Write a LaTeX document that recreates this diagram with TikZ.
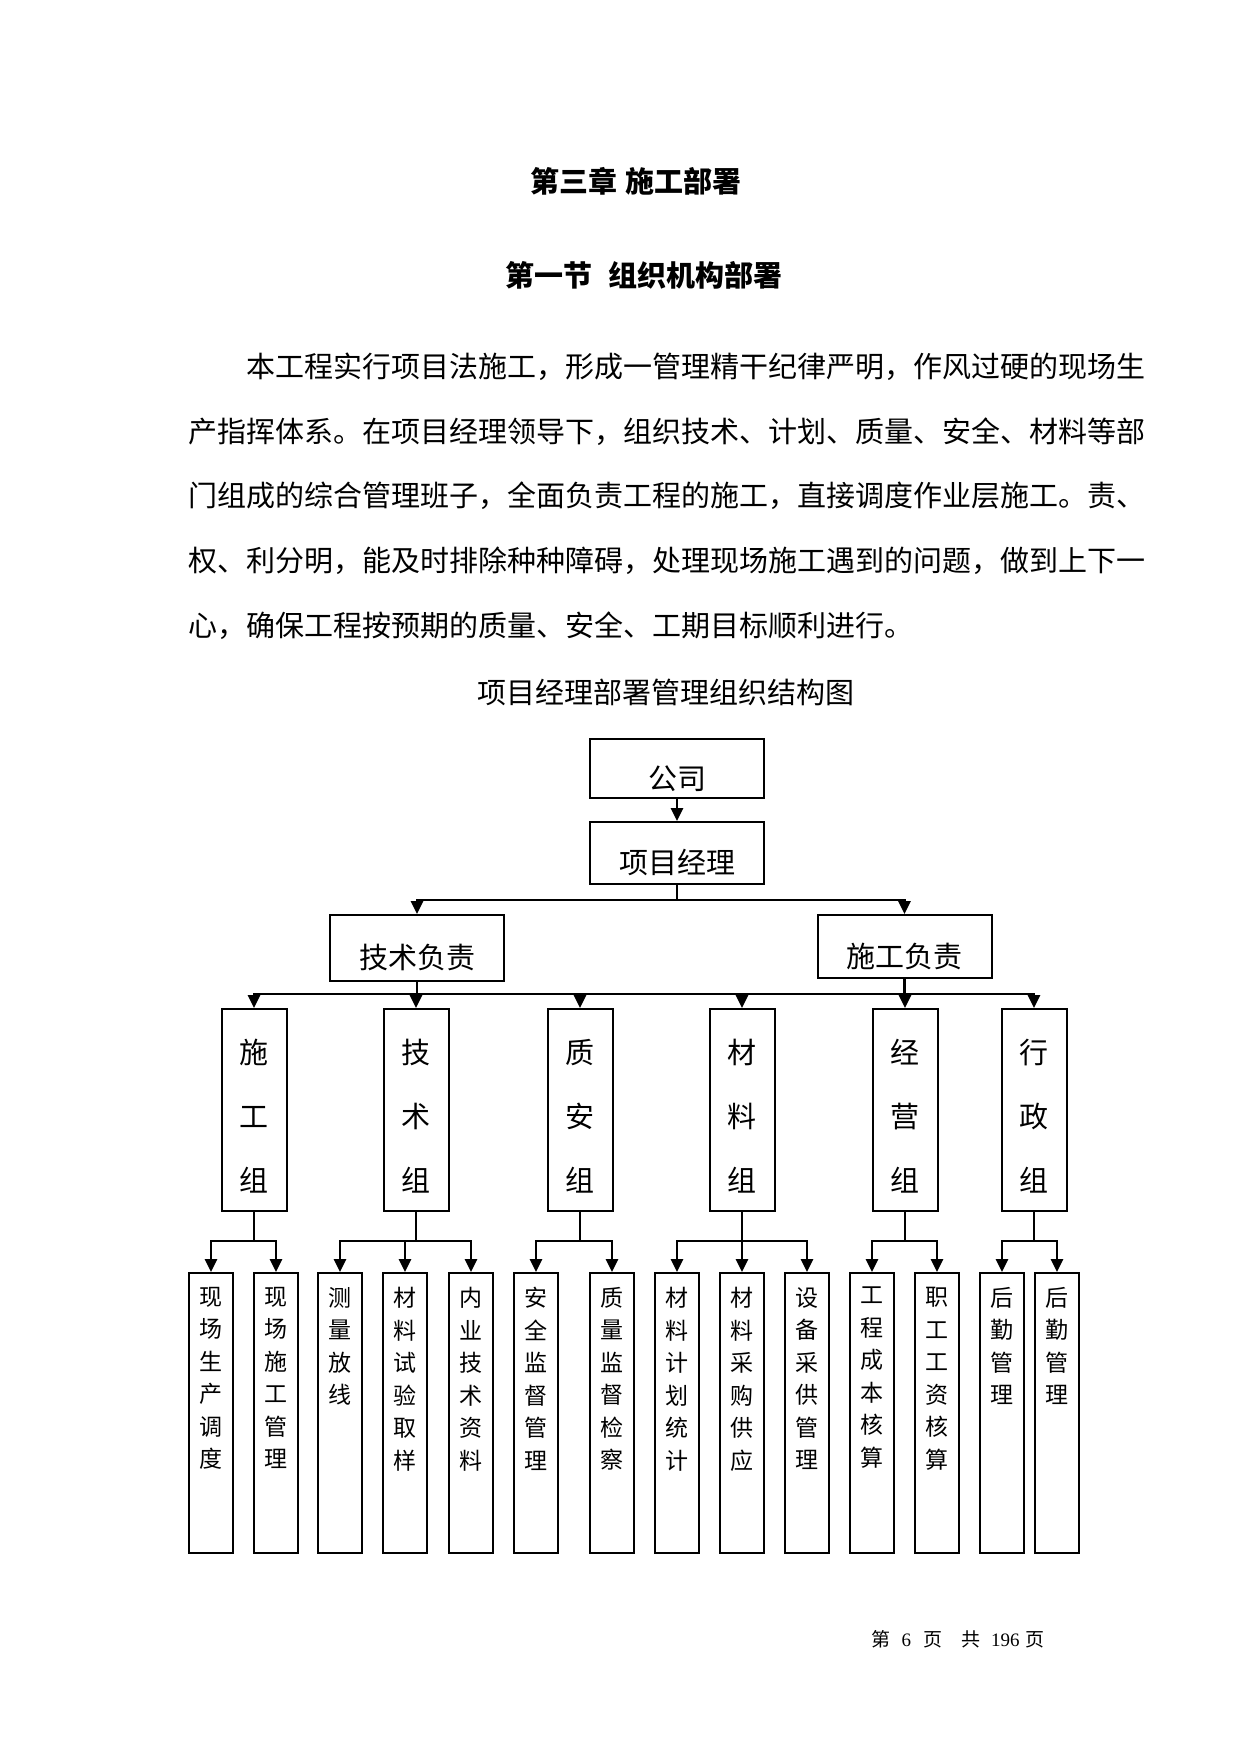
\documentclass[tikz,border=0pt]{standalone}
\usepackage{fontspec}
\setmainfont{Noto Sans CJK SC}
\newfontfamily\numfont{Liberation Serif}
\usetikzlibrary{positioning,arrows.meta}

\begin{document}
\begin{tikzpicture}[
  x=1pt, y=-1pt,
  font=\fontsize{29}{65}\selectfont,
  txt/.style={inner sep=0pt, anchor=west},
  box/.style={draw, line width=2pt, inner sep=0pt},
  mgr/.style={box, minimum width=174pt, text height=41pt, text depth=0pt},
  grp/.style={box, minimum width=65pt, minimum height=202pt},
  gtxt/.style={anchor=north, inner sep=0pt, align=center,
               font=\fontsize{29}{64}\selectfont},
  leaf/.style={box, minimum width=44pt, minimum height=280pt},
  ltxt/.style={anchor=north, inner sep=0pt, align=center,
               font=\fontsize{23}{32.5}\selectfont},
  wire/.style={line width=2.8pt, line cap=rect},
  arr/.style={wire, -{Triangle[length=13pt,width=12pt]}},
]
\useasboundingbox (0,0) rectangle (1241,1754);
% Headings and text
\node[font=\fontsize{29}{35}\selectfont\bfseries] (t1) at (636,181) {第三章\hspace{8pt}施工部署};
\node[font=\fontsize{29}{35}\selectfont\bfseries] (t2) at (644,275) {第一节\hspace{17pt}组织机构部署};
\node[txt] (p1) at (246,367) {本工程实行项目法施工，形成一管理精干纪律严明，作风过硬的现场生};
\node[txt] (p2) at (188,432) {产指挥体系。在项目经理领导下，组织技术、计划、质量、安全、材料等部};
\node[txt] (p3) at (188,496) {门组成的综合管理班子，全面负责工程的施工，直接调度作业层施工。责、};
\node[txt] (p4) at (188,561) {权、利分明，能及时排除种种障碍，处理现场施工遇到的问题，做到上下一};
\node[txt] (p5) at (188,626) {心，确保工程按预期的质量、安全、工期目标顺利进行。};
\node (cap) at (666,692) {项目经理部署管理组织结构图};
% Level 0 and 1
\node[mgr, minimum height=59pt] (co)   at (677,768.5) {公司};
\node[mgr, minimum height=62pt] (pm)   at (677,853)   {项目经理};
\node[mgr, minimum height=66pt] (tech) at (417,948)   {技术负责};
\node[mgr, minimum height=63pt] (cons) at (904.5,946.5) {施工负责};
% Level 2: groups
\foreach \x/\n/\t in {254/g1/{施\\工\\组}, 416/g2/{技\\术\\组}, 580/g3/{质\\安\\组},
    742/g4/{材\\料\\组}, 905/g5/{经\\营\\组}, 1034/g6/{行\\政\\组}} {
  \node[grp] (\n) at (\x,1110) {};
  \node[gtxt] (t\n) at ([yshift=-31pt]\n.north) {\t};
}
% Level 3: tasks
\foreach \x/\n/\t in {211/l1/{现\\场\\生\\产\\调\\度}, 276/l2/{现\\场\\施\\工\\管\\理},
    340/l3/{测\\量\\放\\线}, 405/l4/{材\\料\\试\\验\\取\\样}, 471/l5/{内\\业\\技\\术\\资\\料},
    536/l6/{安\\全\\监\\督\\管\\理}, 612/l7/{质\\量\\监\\督\\检\\察},
    677/l8/{材\\料\\计\\划\\统\\计}, 742/l9/{材\\料\\采\\购\\供\\应}, 807/l10/{设\\备\\采\\供\\管\\理},
    872/l11/{工\\程\\成\\本\\核\\算}, 937/l12/{职\\工\\工\\资\\核\\算},
    1002/l13/{后\\勤\\管\\理}, 1057/l14/{后\\勤\\管\\理}} {
  \node[leaf] (\n) at (\x,1413) {};
  \node[ltxt] (t\n) at ([yshift=-15pt]\n.north) {\t};
}
% Edges
\coordinate (bus) at (0,994);
\coordinate (hub) at (0,1241);
\draw[arr] (co) -- (pm);
\draw[arr] (pm.south) -- ++(0,15) -| (tech);
\draw[arr] (pm.south) -- ++(0,15) -| (cons);
\draw[wire] (tech) -- (tech |- bus);
\draw[wire] (cons) -- (cons |- bus);
\draw[wire] (g1 |- bus) -- (g6 |- bus);
\foreach \g in {g1,g2,g3,g4,g5,g6} \draw[arr] (\g |- bus) -- (\g);
\foreach \g/\a/\b in {g1/l1/l2, g2/l3/l5, g3/l6/l7, g4/l8/l10, g5/l11/l12, g6/l13/l14} {
  \draw[wire] (\g) -- (\g |- hub);
  \draw[wire] (\a |- hub) -- (\b |- hub);
}
\foreach \n in {l1,l2,l3,l4,l5,l6,l7,l8,l9,l10,l11,l12,l13,l14} \draw[arr] (\n |- hub) -- (\n);
% Page number
\node[font=\fontsize{19}{22}\selectfont] (foot) at (958,1639)
  {第\hspace{11pt}{\numfont 6}\hspace{12pt}页\hspace{20pt}共\hspace{10pt}{\numfont 196}\hspace{6pt}页};
\end{tikzpicture}
\end{document}
